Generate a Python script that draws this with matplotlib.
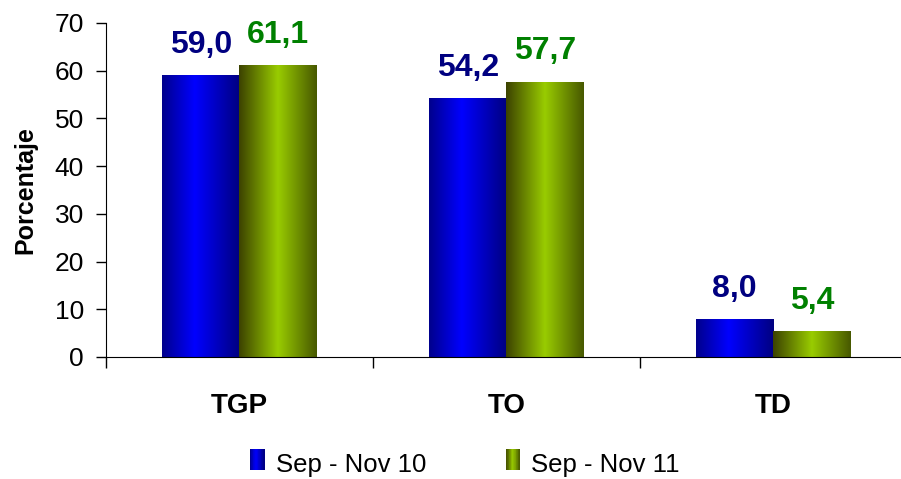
import numpy as np
import matplotlib
matplotlib.use("Agg")
import matplotlib.pyplot as plt
from matplotlib.colors import LinearSegmentedColormap
from matplotlib.patches import Rectangle
from matplotlib.legend_handler import HandlerBase

categories = ["TGP", "TO", "TD"]
series_names = ["Sep - Nov 10", "Sep - Nov 11"]
values_10 = [59.0, 54.2, 8.0]
values_11 = [61.1, 57.7, 5.4]
labels_10 = ["59,0", "54,2", "8,0"]
labels_11 = ["61,1", "57,7", "5,4"]

plt.rcParams["font.family"] = ["Liberation Sans", "DejaVu Sans"]

# horizontal "cylinder" shading
blue_cm = LinearSegmentedColormap.from_list(
    "b", [(0, "#00008c"), (0.42, "#0000ff"), (1, "#000080")])
green_cm = LinearSegmentedColormap.from_list(
    "g", [(0, "#3c4200"), (0.5, "#99cc00"), (1, "#475800")])
grad = np.linspace(0, 1, 256).reshape(1, -1)

fig = plt.figure(figsize=(9.01, 4.79), dpi=100)
ax = fig.add_axes([0.1177, 0.2547, 0.8812, 0.6973])

x = np.arange(len(categories))
w = 0.29

def shaded_bars(xs, vals, cmap):
    bars = ax.bar(xs, vals, w, color="none", edgecolor="none")
    for b in bars:
        im = ax.imshow(grad, cmap=cmap, aspect="auto", interpolation="bilinear",
                       extent=[b.get_x(), b.get_x() + b.get_width(), 0, b.get_height()],
                       zorder=2)
        im.set_clip_path(b)
    return bars

b1 = shaded_bars(x - w / 2, values_10, blue_cm)
b2 = shaded_bars(x + w / 2, values_11, green_cm)

for b, t in zip(b1, labels_10):
    ax.annotate(t, (b.get_x() + b.get_width() / 2, b.get_height()), xytext=(0, 16),
                textcoords="offset points", ha="center", va="baseline",
                fontsize=23, fontweight="bold", color="#000080")
for b, t in zip(b2, labels_11):
    ax.annotate(t, (b.get_x() + b.get_width() / 2, b.get_height()), xytext=(0, 16),
                textcoords="offset points", ha="center", va="baseline",
                fontsize=23, fontweight="bold", color="#008000", annotation_clip=False)

ax.set_xlim(-0.5, 2.475)
ax.set_ylim(0, 70)
ax.set_yticks(range(0, 71, 10))
ax.tick_params(axis="y", labelsize=19, length=7, width=1, pad=9)
ax.set_xticks(x)
ax.set_xticklabels(categories, fontsize=20, fontweight="bold")
ax.tick_params(axis="x", length=0, pad=26)
ax.set_xticks([-0.5, 0.5, 1.5], minor=True)
ax.tick_params(axis="x", which="minor", length=8, width=1)
ax.spines["top"].set_visible(False)
ax.spines["right"].set_visible(False)
ax.spines["left"].set_bounds(0, 70)
ax.set_ylabel("Porcentaje", fontsize=18, fontweight="bold", labelpad=12)


class GradHandler(HandlerBase):
    def __init__(self, cmap):
        super().__init__()
        self.cmap = cmap

    def create_artists(self, legend, orig, xd, yd, width, height, fontsize, trans):
        n = 20
        arts = []
        for i in range(n):
            r = Rectangle((xd + width * i / n, yd), width / n + 0.3, height,
                          facecolor=self.cmap((i + 0.5) / n), edgecolor="none",
                          transform=trans)
            arts.append(r)
        return arts


h1 = Rectangle((0, 0), 1, 1)
h2 = Rectangle((0, 0), 1, 1)
fig.legend([h1, h2], series_names, loc="lower center", bbox_to_anchor=(0.516, -0.044),
           ncol=2, frameon=False, fontsize=18.5, handlelength=0.55, handleheight=0.9,
           handletextpad=0.45, columnspacing=3.1,
           handler_map={h1: GradHandler(blue_cm), h2: GradHandler(green_cm)})

fig.savefig("out.png", dpi=100)
